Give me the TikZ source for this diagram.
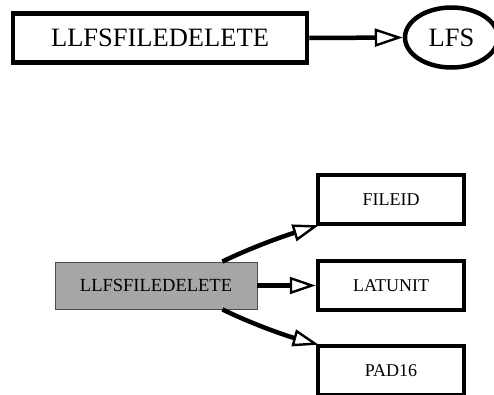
\documentclass[tikz,border=0pt]{standalone}
\usepackage{fontspec}
\setmainfont{Liberation Serif}
\usetikzlibrary{arrows.meta,calc,shapes.geometric}
\definecolor{boxgray}{RGB}{166,166,166}
\tikzset{
  thickbox/.style={draw=black, line width=4.5pt, fill=white, rectangle, inner sep=0pt},
  graybox/.style={draw=black!70, line width=0.8pt, fill=boxgray, rectangle, inner sep=0pt},
  bigarrow/.style={line width=4.5pt, -{Triangle[open, fill=white, length=28pt, width=18pt, line width=2.4pt]}},
  smallarrow/.style={line width=4.5pt, -{Triangle[open, fill=white, length=26pt, width=17pt, line width=2.4pt]}},
}
\begin{document}
\begin{tikzpicture}[x=1pt,y=-1pt]
\useasboundingbox (0,0) rectangle (494,394);
% top
\node[thickbox, minimum width=294pt, minimum height=49pt, font=\fontsize{26.5}{30}\selectfont] (top) at (160,38) {LLFSFILEDELETE};
\node[draw=black, line width=4.5pt, ellipse, fill=white, minimum width=93pt, minimum height=60pt, inner sep=0pt, font=\fontsize{26.5}{30}\selectfont] (lfs) at (451.5,37.5) {LFS};
\draw[bigarrow] (top.east) -- (lfs.west);
% bottom
\node[graybox, minimum width=202pt, minimum height=47pt, font=\fontsize{18.5}{22}\selectfont] (g) at (156,285.5) {LLFSFILEDELETE};
\node[thickbox, minimum width=146pt, minimum height=49pt, font=\fontsize{18}{22}\selectfont] (f) at (391,199.5) {FILEID};
\node[thickbox, minimum width=146pt, minimum height=49pt, font=\fontsize{18}{22}\selectfont] (l) at (391,285.5) {LATUNIT};
\node[thickbox, minimum width=146pt, minimum height=49pt, font=\fontsize{18}{22}\selectfont] (p) at (391,370.5) {PAD16};
\coordinate (gs1) at ($(g.north east)+(-35,0)$);
\coordinate (gs2) at ($(g.south east)+(-35,0)$);
\coordinate (fe) at ($(f.south west)+(3,-1)$);
\coordinate (pe) at ($(p.north west)+(3,1)$);
\draw[smallarrow] (gs1) .. controls (252,247) and (287,235) .. (fe);
\draw[smallarrow] (g.east) -- (l.west);
\draw[smallarrow] (gs2) .. controls (252,324) and (287,336) .. (pe);
\end{tikzpicture}
\end{document}
